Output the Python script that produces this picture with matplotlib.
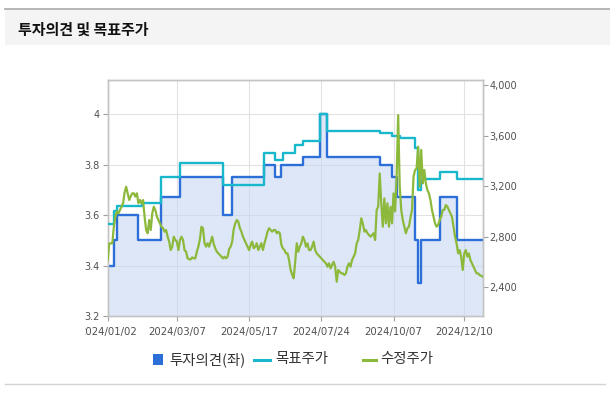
import numpy as np
import matplotlib
matplotlib.use("Agg")
import matplotlib.pyplot as plt
from matplotlib.patches import Rectangle
from matplotlib.lines import Line2D
from matplotlib.ticker import FuncFormatter, FixedLocator

plt.rcParams['font.family'] = ['DejaVu Sans', 'Noto Sans CJK KR']
KR = ['Noto Sans CJK KR', 'DejaVu Sans']

W, H = 610, 396

# 수정주가: one close per trading session, starting 2024/01/02
close_price = [
    2614, 2746, 2746, 2746, 2880, 2958, 3000, 2985, 3011, 3037,
    3064, 3150, 3196, 3143, 3090, 3120, 3143, 3143, 3117, 3143,
    3064, 3090, 3064, 3090, 2958, 2852, 2826, 2931, 2852, 2985,
    3037, 3011, 2960, 2931, 2905, 2878, 2866, 2839, 2852, 2799,
    2760, 2693, 2720, 2799, 2773, 2760, 2693, 2773, 2799, 2773,
    2693, 2680, 2627, 2620, 2619, 2635, 2627, 2627, 2680, 2720,
    2780, 2878, 2866, 2747, 2720, 2747, 2720, 2760, 2799, 2740,
    2707, 2680, 2667, 2654, 2640, 2627, 2640, 2627, 2640, 2700,
    2720, 2760, 2860, 2905, 2931, 2918, 2866, 2839, 2799, 2773,
    2747, 2720, 2693, 2733, 2760, 2707, 2720, 2747, 2693, 2720,
    2747, 2693, 2747, 2790, 2839, 2866, 2852, 2839, 2852, 2852,
    2826, 2839, 2826, 2733, 2707, 2693, 2667, 2667, 2614, 2535,
    2500, 2469, 2600, 2747, 2680, 2720, 2746, 2799, 2773, 2720,
    2746, 2693, 2693, 2720, 2760, 2693, 2667, 2654, 2640, 2627,
    2614, 2600, 2588, 2561, 2588, 2548, 2575, 2600, 2561, 2442,
    2535, 2522, 2508, 2508, 2495, 2508, 2561, 2588, 2561, 2614,
    2640, 2667, 2746, 2773, 2852, 2945, 2905, 2839, 2852, 2826,
    2812, 2799, 2812, 2826, 2773, 3011, 3037, 3301, 3064, 2878,
    3103, 2905, 3064, 2878, 3037, 2905, 3143, 3000, 3275, 3764,
    3200, 3011, 2931, 2878, 2826, 2866, 2878, 2950, 3011, 3275,
    3328, 3340, 3513, 3196, 3487, 3222, 3328, 3222, 3169, 3143,
    3090, 3011, 2958, 2905, 2878, 2892, 2931, 2958, 3011, 3011,
    3050, 3037, 3011, 2985, 2958, 2878, 2799, 2746, 2667, 2693,
    2640, 2535, 2667, 2693, 2640, 2667, 2614, 2588, 2561, 2535,
    2508, 2508, 2495, 2490, 2482,
]

# 투자의견 (좌): session where each level begins, and its value
opinion_sessions = [0, 4, 6, 20, 35, 47, 75, 81, 102, 109, 113, 127,
                    138, 143, 177, 185, 188, 200, 202, 204, 216, 227]
opinion_values = [3.40, 3.50, 3.60, 3.50, 3.67, 3.75, 3.60, 3.75, 3.80, 3.75,
                  3.80, 3.83, 4.00, 3.83, 3.80, 3.75, 3.67, 3.50, 3.33, 3.50,
                  3.67, 3.50]

# 목표주가: session where each target begins, and its value
target_sessions = [0, 4, 6, 22, 35, 47, 75, 102, 109, 114, 122, 127,
                   138, 143, 177, 185, 190, 200, 202, 204, 216, 227]
target_values = [2900, 3000, 3040, 3070, 3270, 3380, 3210, 3465, 3410, 3465,
                 3530, 3555, 3770, 3640, 3625, 3600, 3580, 3500, 3170, 3260,
                 3310, 3260]

tick_labels = ['2024/01/02', '2024/03/07', '2024/05/17',
               '2024/07/24', '2024/10/07', '2024/12/10']
tick_sessions = [0, 45, 92, 139, 186, 232]

left_ticks = [3.2, 3.4, 3.6, 3.8, 4.0]
right_ticks = [2400, 2800, 3200, 3600, 4000]

legend_labels = ['투자의견(좌)', '목표주가', '수정주가']

C_OPINION = '#2d6fd8'
C_FILL = '#c4d5f2'
C_TARGET = '#19b7cc'
C_PRICE = '#8cb93c'

fig = plt.figure(figsize=(W / 100, H / 100), dpi=100)
fig.patch.set_facecolor('white')


def fx(x):
    return x / W


def fy(y):
    return 1 - y / H


# header band with title
fig.add_artist(Rectangle((fx(5), fy(44.5)), fx(605), (44.5 - 9.3) / H,
                         transform=fig.transFigure, facecolor='#f4f4f4',
                         edgecolor='none', zorder=0))
fig.add_artist(Line2D([fx(5), fx(610)], [fy(8.7), fy(8.7)],
                      transform=fig.transFigure, color='#b0b0b0', lw=1.3))
fig.add_artist(Line2D([fx(5), fx(605)], [fy(383.5), fy(383.5)],
                      transform=fig.transFigure, color='#d4d4d4', lw=1.0))
fig.text(fx(18), fy(30), '투자의견 및 목표주가', family=KR, fontsize=10.8,
         fontweight='bold', color='#111111', va='center', ha='left')

left, right, top, bottom = 107.7, 482.7, 80.0, 316.0
ax = fig.add_axes([fx(left), fy(bottom), fx(right - left), (bottom - top) / H])
ax2 = ax.twinx()

n = len(close_price)
last = n - 1
sessions = np.arange(n)

op_x = opinion_sessions + [last]
op_y = opinion_values + [opinion_values[-1]]
tg_x = target_sessions + [last]
tg_y = target_values + [target_values[-1]]

ax.fill_between(op_x, op_y, 3.0, step='post', facecolor=C_FILL, alpha=0.55,
                edgecolor='none', zorder=1)
ax.step(op_x, op_y, where='post', color=C_OPINION, lw=1.7, zorder=3)

ax2.step(tg_x, tg_y, where='post', color=C_TARGET, lw=1.7, zorder=3)
ax2.plot(sessions, close_price, color=C_PRICE, lw=1.6, zorder=4)

ax.set_xlim(0, last)
ax.set_ylim(3.2, 4.135)
ax2.set_ylim(2170, 4042)

ax.xaxis.set_major_locator(FixedLocator(tick_sessions))
ax.set_xticklabels(tick_labels)
ax.yaxis.set_major_locator(FixedLocator(left_ticks))
ax.yaxis.set_major_formatter(FuncFormatter(lambda v, p: f'{v:g}'))
ax2.yaxis.set_major_locator(FixedLocator(right_ticks))
ax2.yaxis.set_major_formatter(FuncFormatter(lambda v, p: f'{int(v):,}'))

ax.set_axisbelow(True)
ax.grid(True, color='#e2e2e2', lw=0.8)
ax2.grid(False)

for a in (ax, ax2):
    for s in a.spines.values():
        s.set_color('#c4c4c4')
        s.set_linewidth(1.0)

ax.tick_params(axis='both', length=3.5, width=0.8, color='#a0a0a0',
               labelsize=7, labelcolor='#505050')
ax.tick_params(axis='x', labelsize=7.25, pad=4.5)
ax.tick_params(axis='y', pad=2)
ax2.tick_params(axis='y', length=3.5, width=0.8, color='#a0a0a0',
                labelsize=7, labelcolor='#505050', pad=1.5)

# the chart container cuts off the left end of the first date label
fig.add_artist(Rectangle((0, fy(345)), fx(85), 25 / H,
                         transform=fig.transFigure, facecolor='white',
                         edgecolor='none', zorder=10))

# legend row
ly = 359.5
fig.add_artist(Rectangle((fx(152.8), fy(365)), fx(10.6), 10.6 / H,
                         transform=fig.transFigure, facecolor=C_OPINION,
                         edgecolor='none'))
fig.text(fx(169.5), fy(ly), legend_labels[0], family=KR, fontsize=10.4,
         color='#333333', va='center', ha='left')
fig.add_artist(Line2D([fx(253.5), fx(270)], [fy(ly), fy(ly)],
                      transform=fig.transFigure, color=C_TARGET, lw=2.2))
fig.text(fx(275), fy(ly), legend_labels[1], family=KR, fontsize=10.4,
         color='#333333', va='center', ha='left')
fig.add_artist(Line2D([fx(363.3), fx(375.7)], [fy(ly), fy(ly)],
                      transform=fig.transFigure, color=C_PRICE, lw=2.2))
fig.text(fx(380), fy(ly), legend_labels[2], family=KR, fontsize=10.4,
         color='#333333', va='center', ha='left')

fig.savefig('out.png', dpi=100)
